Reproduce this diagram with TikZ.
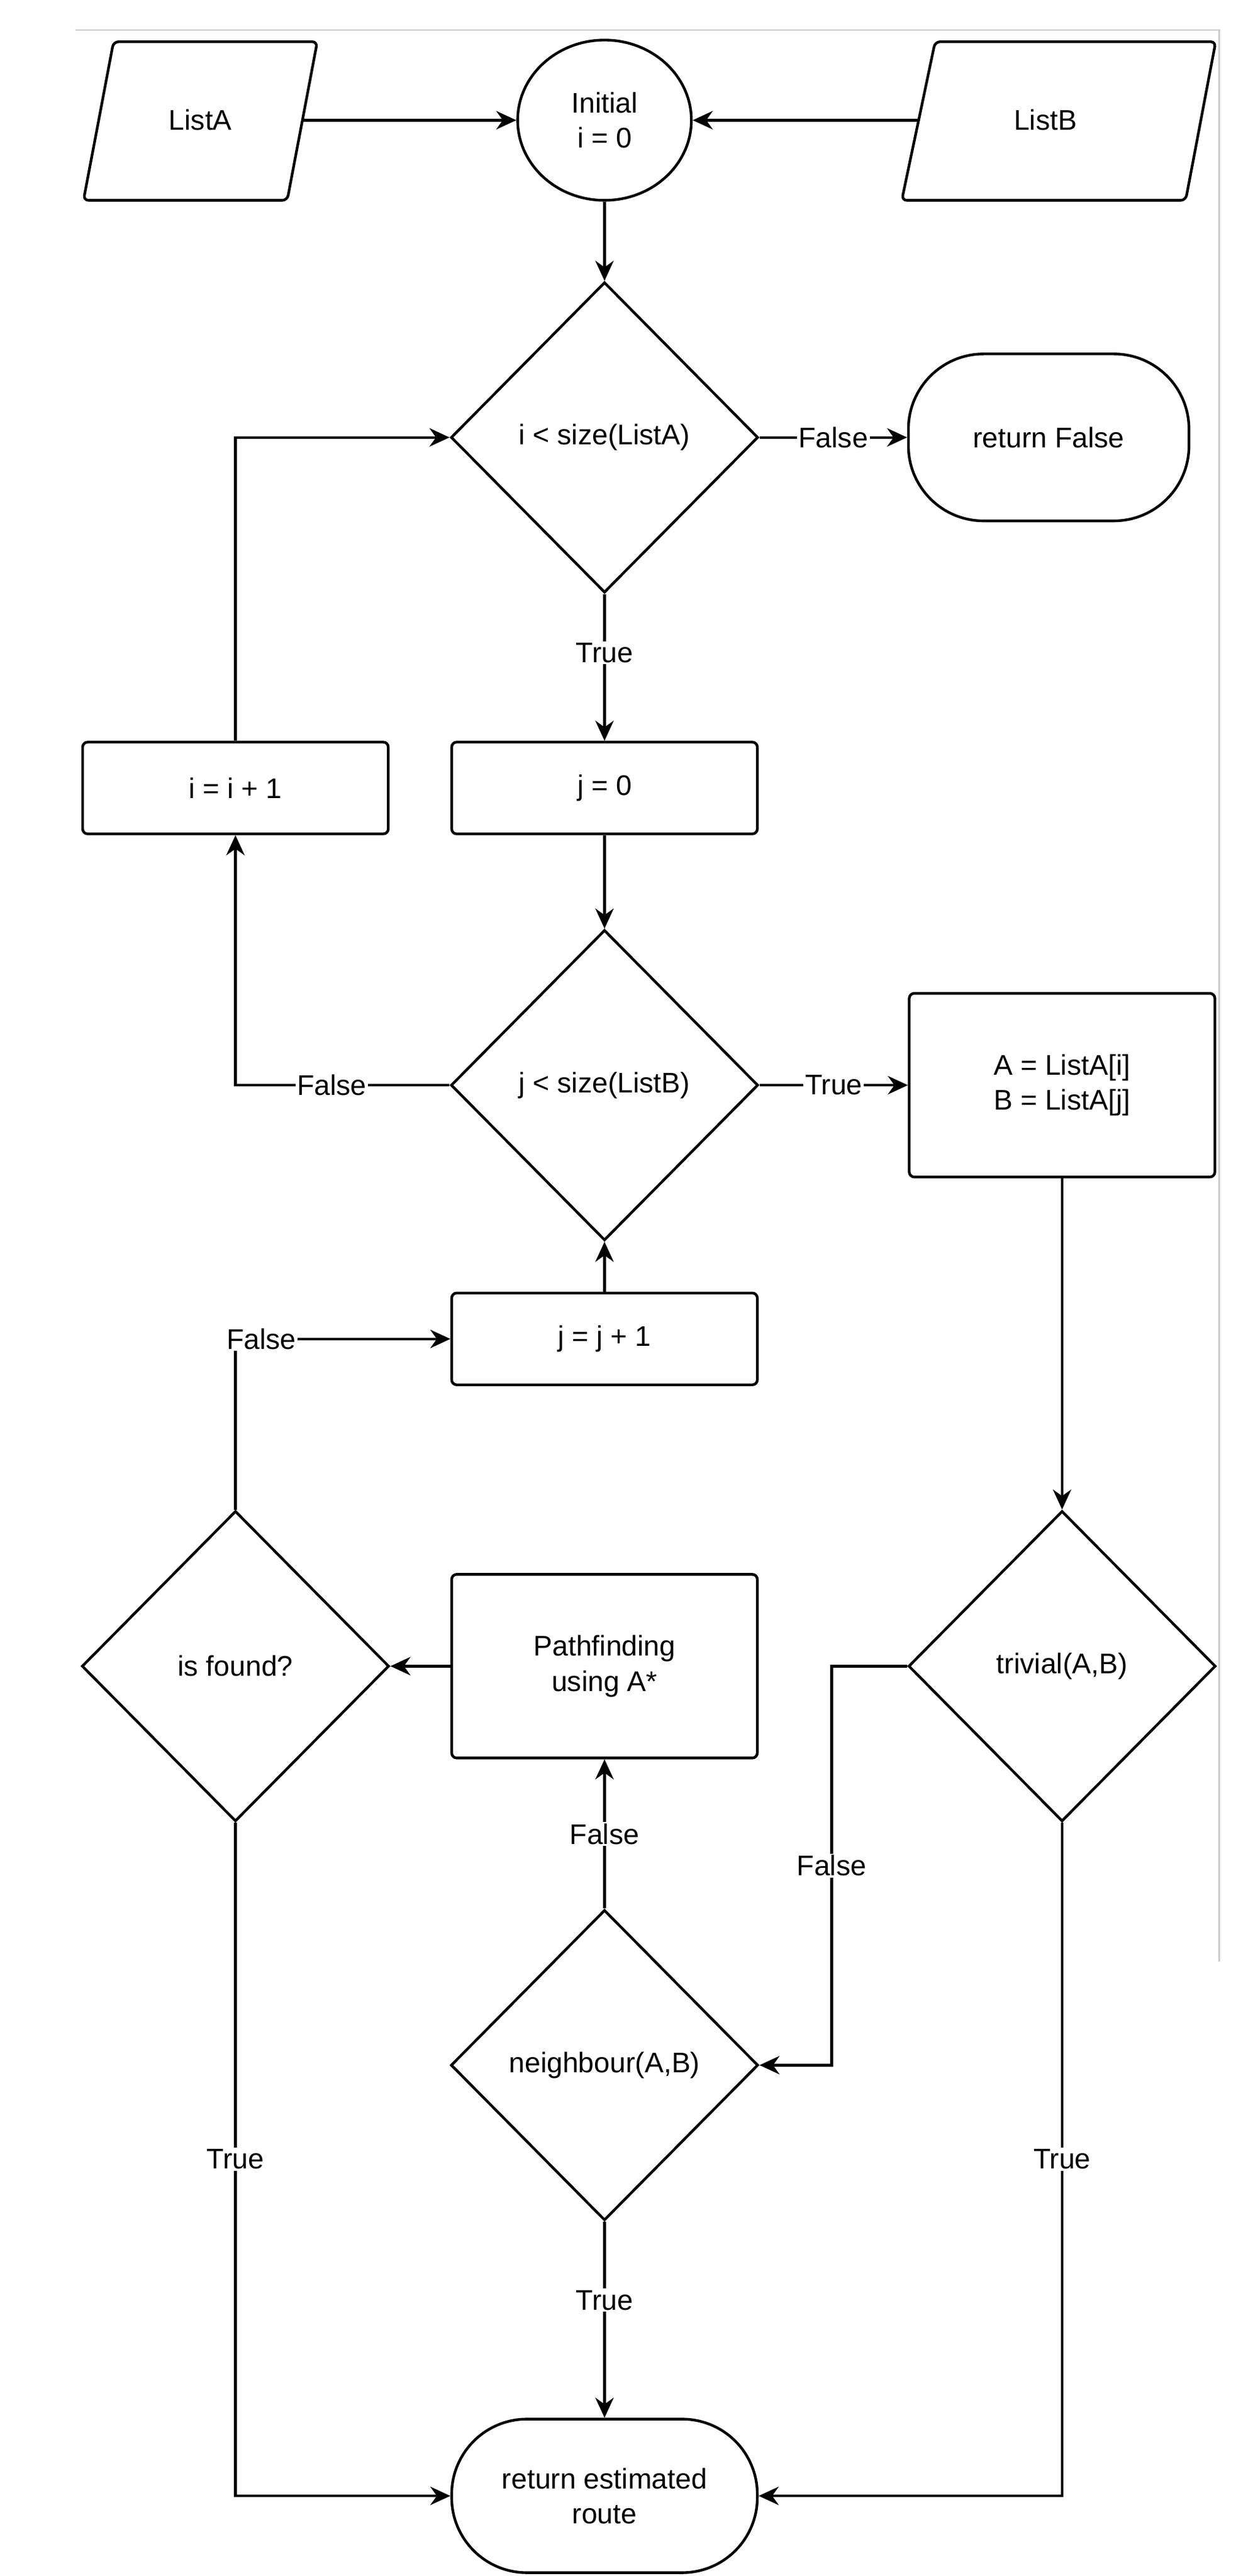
\documentclass[tikz,border=0pt]{standalone}
\usepackage{fontspec}
\setmainfont{Liberation Sans}
\usetikzlibrary{shapes.geometric,arrows.meta}
\begin{document}
\begin{tikzpicture}[x=1pt,y=-1pt,
  every node/.style={font=\fontsize{17}{21}\selectfont, align=center},
  ln/.style={line width=1.6pt},
  arr/.style={ln,-{Stealth[length=12pt,width=11pt]}},
  box/.style={draw,ln,rectangle,rounded corners=3pt,minimum width=183pt,inner sep=0pt},
  dia/.style={draw,ln,diamond,minimum width=184pt,minimum height=186pt,inner sep=0pt},
  term/.style={draw,ln,rectangle,rounded corners=45pt,minimum width=168pt,minimum height=100pt,inner sep=0pt},
  lbl/.style={fill=white,inner sep=1pt}]
\useasboundingbox (0,0) rectangle (740,1543);
\draw[gray!40,line width=1pt] (45,18) -- (730,18) -- (730,1175);
% parallelograms
\draw[ln,rounded corners=3pt] (68,25) -- (190,25) -- (172,120) -- (50,120) -- cycle;
\draw[ln,rounded corners=3pt] (560,25) -- (728,25) -- (710,120) -- (540,120) -- cycle;
\node[minimum width=80pt,minimum height=10pt,inner sep=0pt] (la) at (120,72) {ListA};
\node[minimum width=75pt,minimum height=10pt,inner sep=0pt] (lb) at (626,72) {ListB};
\coordinate (laR) at (181,72);
\coordinate (lbL) at (550,72);
\node[draw,ln,ellipse,minimum width=104pt,minimum height=96pt,inner sep=0pt] (init) at (362,72) {Initial\\i = 0};
\node[dia] (d1) at (362,262) {i < size(ListA)};
\node[term] (rf) at (628,262) {return False};
\node[box,minimum height=55pt] (j0) at (362,472) {j = 0};
\node[box,minimum height=55pt] (ii) at (141,472) {i = i + 1};
\node[dia] (d2) at (362,650) {j < size(ListB)};
\node[box,minimum height=110pt] (ab) at (636,650) {A = ListA[i]\\B = ListA[j]};
\node[box,minimum height=55pt] (jj) at (362,802) {j = j + 1};
\node[dia] (fd) at (141,998) {is found?};
\node[box,minimum height=110pt] (pf) at (362,998) {Pathfinding\\using A*};
\node[dia] (tr) at (636,998) {trivial(A,B)};
\node[dia] (nb) at (362,1237) {neighbour(A,B)};
\node[term,minimum width=183pt,minimum height=92pt] (rr) at (362,1495) {return estimated\\route};
% edges
\draw[arr] (laR) -- (init.west);
\draw[arr] (lbL) -- (init.east);
\draw[arr] (init) -- (d1);
\draw[arr] (d1.east) -- node[lbl]{False} (rf.west);
\draw[arr] (d1.south) -- node[lbl,pos=0.4]{True} (j0.north);
\draw[arr] (j0) -- (d2);
\draw[arr] (d2.west) -- node[lbl,pos=0.55]{False} (141,650) -- (ii.south);
\draw[arr] (ii.north) |- (d1.west);
\draw[arr] (d2.east) -- node[lbl,pos=0.5]{True} (ab.west);
\draw[arr] (ab.south) -- (tr.north);
\draw[arr] (tr.west) -- (498,998) -- node[lbl,pos=0.5]{False} (498,1237) -- (nb.east);
\draw[arr] (tr.south) -- node[lbl,pos=0.5]{True} (636,1495) -- (rr.east);
\draw[arr] (nb.north) -- node[lbl]{False} (pf.south);
\draw[arr] (nb.south) -- node[lbl,pos=0.4]{True} (rr.north);
\draw[arr] (pf.west) -- (fd.east);
\draw[arr] (fd.north) -- (141,802) -- node[lbl,pos=0.12]{False} (jj.west);
\draw[arr] (fd.south) -- node[lbl,pos=0.5]{True} (141,1495) -- (rr.west);
\draw[arr] (jj.north) -- (d2.south);
\end{tikzpicture}
\end{document}
